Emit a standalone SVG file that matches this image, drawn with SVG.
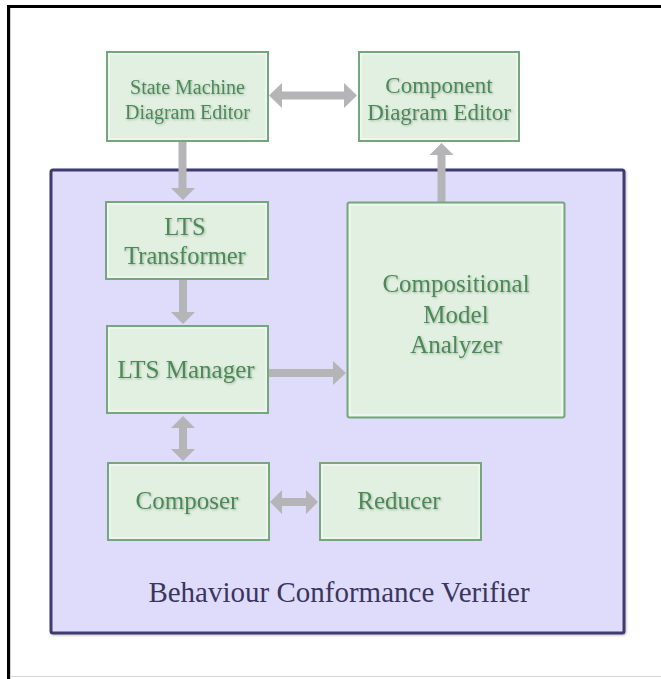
<svg xmlns="http://www.w3.org/2000/svg" width="661" height="679" viewBox="0 0 661 679">
<defs>
<filter id="ts" x="-10%" y="-20%" width="120%" height="140%">
<feDropShadow dx="1" dy="1" stdDeviation="0.8" flood-color="#000" flood-opacity="0.25"/>
</filter>
<filter id="bs" x="-5%" y="-5%" width="110%" height="110%">
<feDropShadow dx="1" dy="1" stdDeviation="1" flood-color="#000" flood-opacity="0.25"/>
</filter>
</defs>
<style>
.node{fill:#e1f0e1;stroke:#76a67d;stroke-width:2}
.inner{fill:none;stroke:#ffffff;stroke-width:1;opacity:0.8}
.lbl{font-family:"Liberation Serif","Times New Roman",serif;fill:#4b8a57;text-anchor:middle;filter:url(#ts)}
.arr{fill:#b5b5b8}
</style>
<rect x="0" y="0" width="661" height="679" fill="#ffffff"/>
<g id="frame">
<rect x="7" y="5" width="654" height="3" fill="#000"/>
<rect x="7" y="5" width="3" height="674" fill="#000"/>
<rect x="10" y="8" width="1" height="671" fill="#d0d0d0"/>
<rect x="10" y="676" width="651" height="1" fill="#d6d6d6"/>
</g>
<g id="verifier">
<rect x="51" y="170" width="573" height="463" rx="2" fill="#dfdcfb" stroke="#3e3a6f" stroke-width="3" filter="url(#bs)"/>
<text x="339" y="602" font-family="'Liberation Serif','Times New Roman',serif" font-size="29" fill="#3b365f" text-anchor="middle">Behaviour Conformance Verifier</text>
</g>
<g id="connectors">
<polygon class="arr" points="178.5,141 186.5,141 186.5,188 195,188 183,200 171,188 178.5,188"/>
<polygon class="arr" points="179,279 187,279 187,312 195,312 183,324 171,312 179,312"/>
<polygon class="arr" points="437.5,202 445.5,202 445.5,155 453.5,155 441.5,143 429.5,155 437.5,155"/>
<polygon class="arr" points="268,369 333,369 333,361 346,373 333,385 333,377 268,377"/>
<polygon class="arr" points="269,95.5 282,83 282,91.5 344,91.5 344,83 357,95.5 344,108 344,99.5 282,99.5 282,108"/>
<polygon class="arr" points="183,416 195,428 187,428 187,449 195,449 183,461 171,449 179,449 179,428 171,428"/>
<polygon class="arr" points="270,502 282,490 282,498 306,498 306,490 318,502 306,514 306,506 282,506 282,514"/>
</g>
<g id="state-machine-editor">
<rect class="node" x="107" y="52" width="161" height="89"/>
<rect class="inner" x="109" y="54" width="157" height="85"/>
<text class="lbl" x="187.5" y="94" font-size="20">State Machine</text>
<text class="lbl" x="187.5" y="119" font-size="20">Diagram Editor</text>
</g>
<g id="component-editor">
<rect class="node" x="359" y="52" width="160" height="89"/>
<rect class="inner" x="361" y="54" width="156" height="85"/>
<text class="lbl" x="439" y="93" font-size="23">Component</text>
<text class="lbl" x="439" y="120" font-size="23">Diagram Editor</text>
</g>
<g id="lts-transformer">
<rect class="node" x="106" y="202" width="162" height="77"/>
<rect class="inner" x="108" y="204" width="158" height="73"/>
<text class="lbl" x="185" y="235" font-size="24.5">LTS</text>
<text class="lbl" x="185" y="264" font-size="24.5">Transformer</text>
</g>
<g id="lts-manager">
<rect class="node" x="107" y="326" width="161" height="87"/>
<rect class="inner" x="109" y="328" width="157" height="83"/>
<text class="lbl" x="186" y="378" font-size="25">LTS Manager</text>
</g>
<g id="compositional-model-analyzer">
<rect class="node" x="347.5" y="202.5" width="217" height="215" rx="2" stroke-width="3"/>
<rect class="inner" x="350" y="205" width="212" height="210"/>
<text class="lbl" x="456" y="292" font-size="25">Compositional</text>
<text class="lbl" x="456" y="323" font-size="25">Model</text>
<text class="lbl" x="456" y="353" font-size="25">Analyzer</text>
</g>
<g id="composer">
<rect class="node" x="108" y="463" width="161" height="77"/>
<rect class="inner" x="110" y="465" width="157" height="73"/>
<text class="lbl" x="187" y="509" font-size="25">Composer</text>
</g>
<g id="reducer">
<rect class="node" x="320" y="463" width="161" height="77"/>
<rect class="inner" x="322" y="465" width="157" height="73"/>
<text class="lbl" x="399" y="509" font-size="25">Reducer</text>
</g>
</svg>
